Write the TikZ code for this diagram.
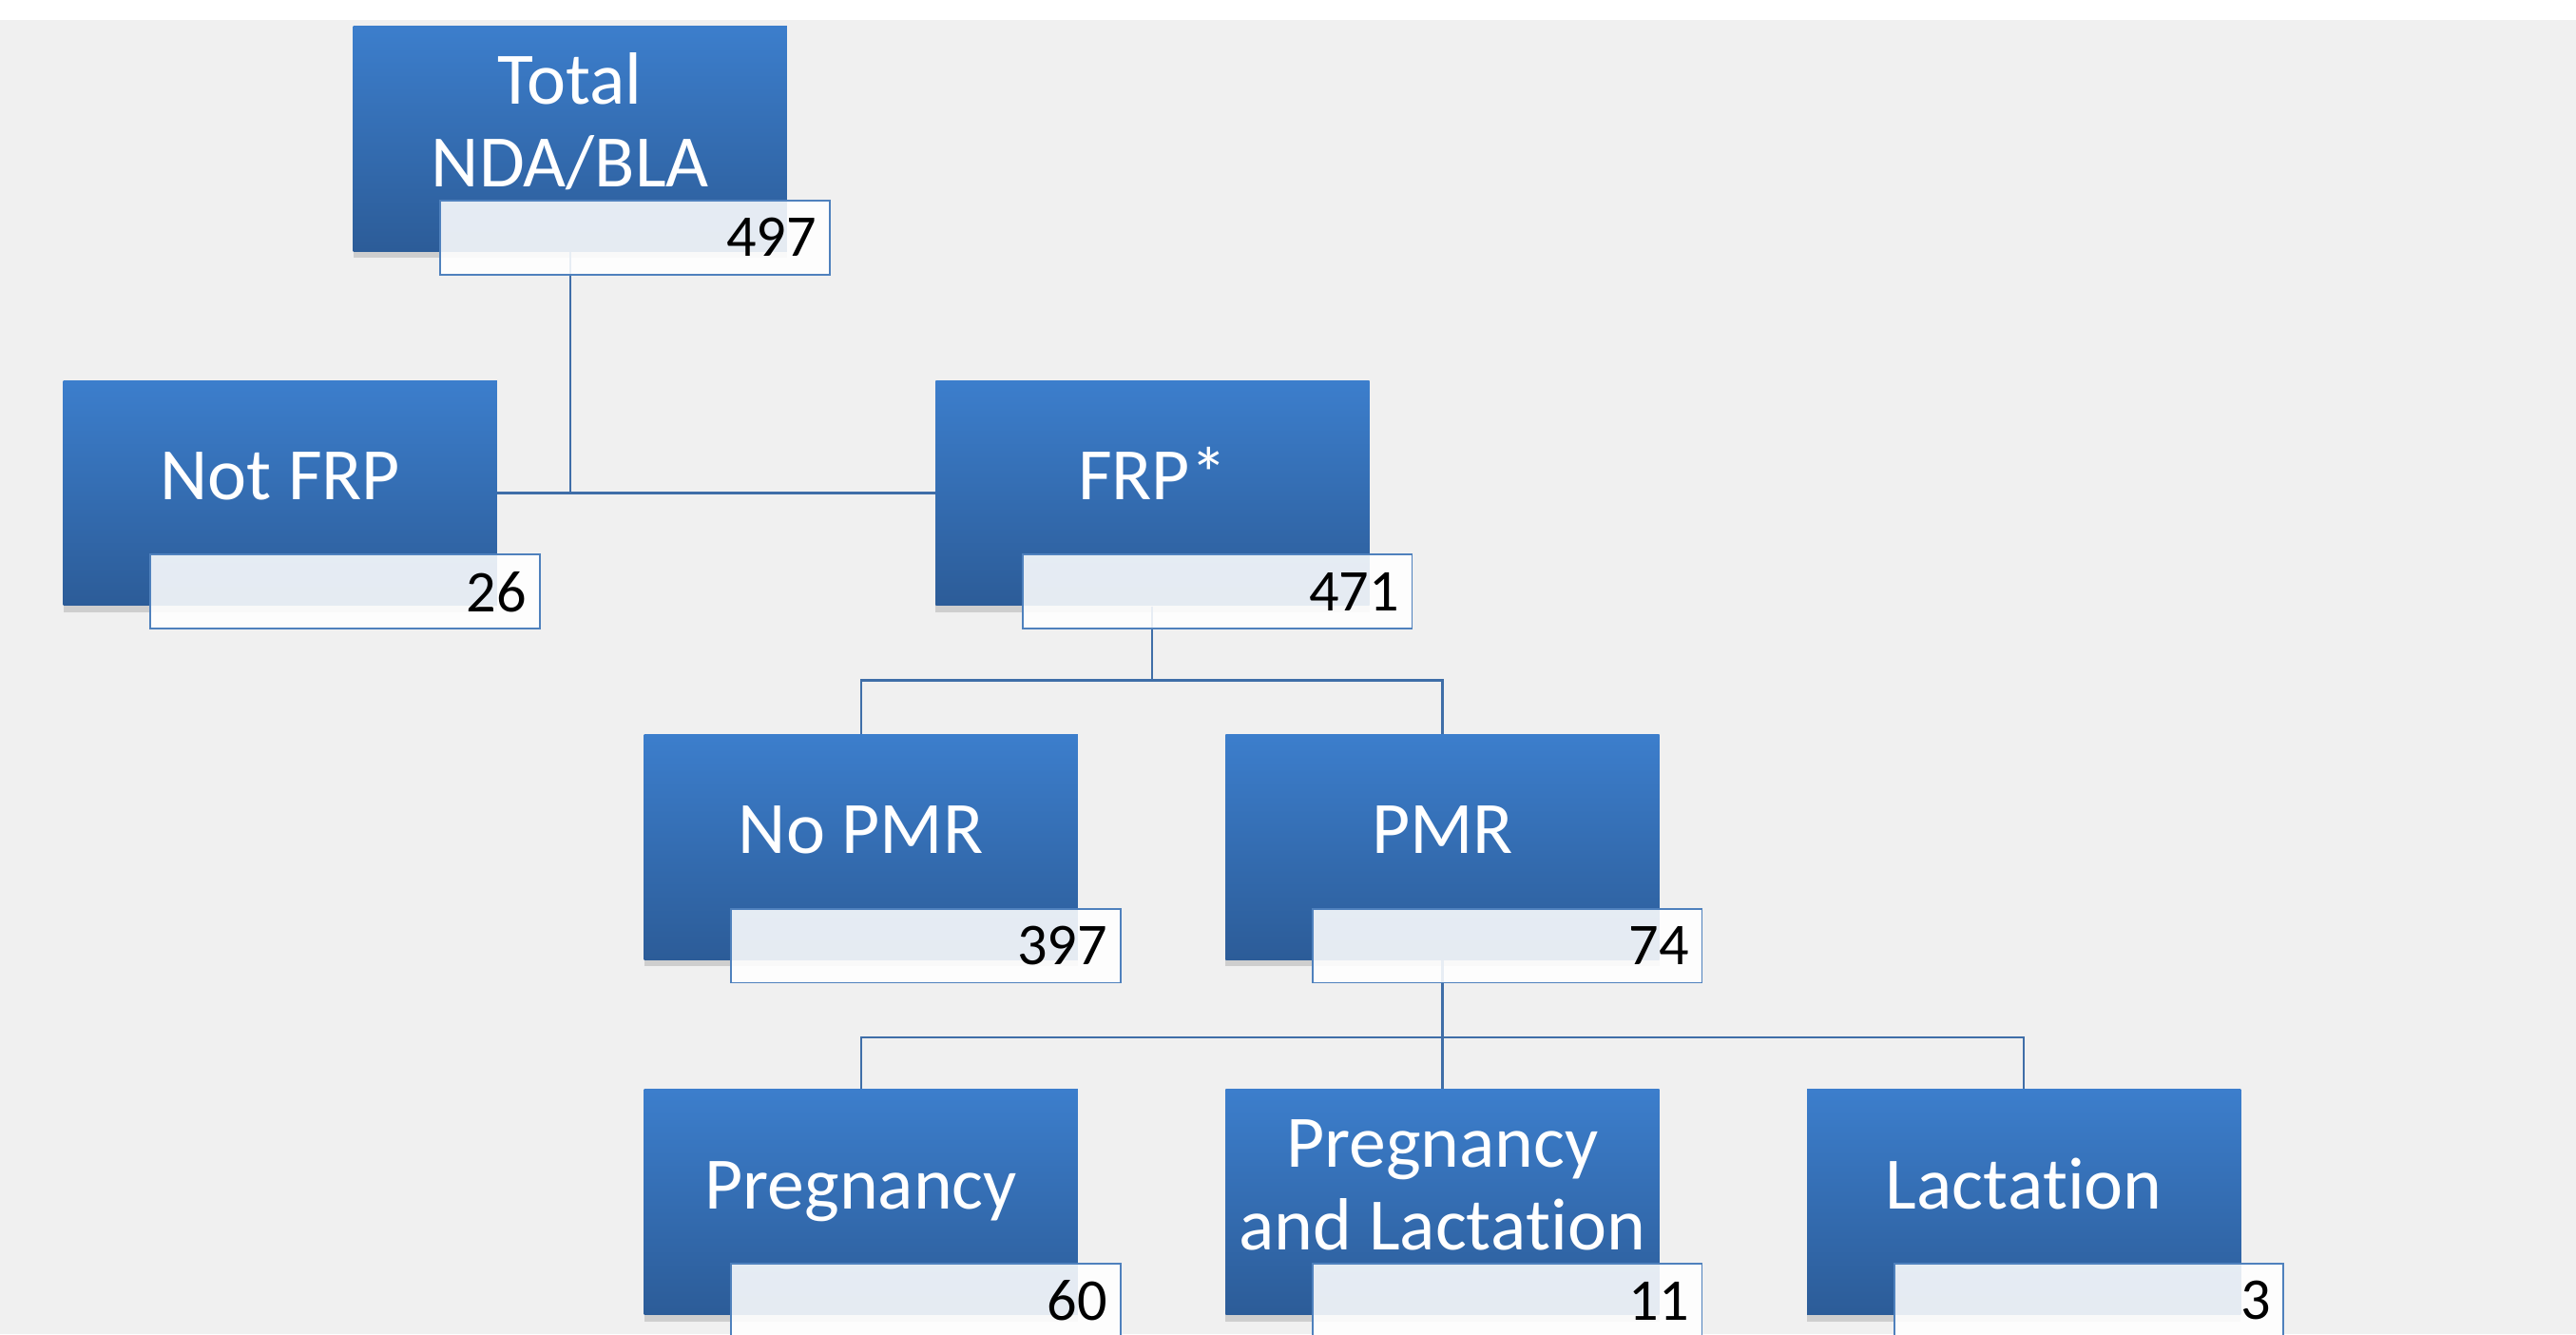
\documentclass[tikz,border=0pt]{standalone}
\usepackage{fontspec}
\setmainfont{Carlito}[Ligatures={NoCommon}]
\usetikzlibrary{shadows}
\definecolor{boxtop}{HTML}{3C7ECC}
\definecolor{boxbottom}{HTML}{2C5C98}
\definecolor{countline}{HTML}{4F81BD}
\definecolor{linkcolor}{HTML}{3F6EA8}
\definecolor{backgray}{HTML}{F0F0F0}
\tikzstyle{stagebox} = [rectangle, minimum width=5.28cm, minimum height=2.74cm, top color=boxtop, bottom color=boxbottom, draw=none, drop shadow={shadow xshift=0cm, shadow yshift=-0.08cm, opacity=0.3}]
\tikzstyle{stagetext} = [text=white, align=center, font=\fontsize{25.6}{28.5}\selectfont]
\tikzstyle{oneline} = [text height=0.78cm, text depth=0.2cm]
\tikzstyle{countbox} = [rectangle, minimum width=4.74cm, minimum height=0.9cm, text width=4.42cm, inner xsep=0.16cm, align=right, draw=countline, line width=0.6pt, fill=white, fill opacity=0.88, text opacity=1, font=\fontsize{20.5}{24}\selectfont]
\tikzstyle{linkline} = [draw=linkcolor, line width=0.7pt]

\begin{document}
\begin{tikzpicture}

\useasboundingbox (0,0) rectangle (31.36,-16.24);
\clip (0,0) rectangle (31.36,-16.24);
\fill [white] (0,0) rectangle (31.36,-0.24);
\fill [backgray] (0,-0.24) rectangle (31.36,-16.24);

%% NODES

\node (total) [stagebox] at (6.94,-1.69) {};
\node (totaltext) [stagetext] at ([yshift=0.21cm]total.center) {Total\\NDA/BLA};
\node (notfrp) [stagebox] at (3.41,-6.0) {};
\node (notfrptext) [stagetext, oneline] at ([yshift=0.21cm]notfrp.center) {Not FRP};
\node (frp) [stagebox] at (14.03,-6.0) {};
\node (frptext) [stagetext, oneline] at ([yshift=0.21cm]frp.center) {FRP*};
\node (nopmr) [stagebox] at (10.48,-10.31) {};
\node (nopmrtext) [stagetext, oneline] at ([yshift=0.21cm]nopmr.center) {No PMR};
\node (pmr) [stagebox] at (17.56,-10.31) {};
\node (pmrtext) [stagetext, oneline] at ([yshift=0.21cm]pmr.center) {PMR};
\node (preg) [stagebox] at (10.48,-14.63) {};
\node (pregtext) [stagetext, oneline] at ([yshift=0.21cm]preg.center) {Pregnancy};
\node (preglact) [stagebox] at (17.56,-14.63) {};
\node (preglacttext) [stagetext] at ([yshift=0.21cm]preglact.center) {Pregnancy\\and Lact\kern0pt ation};
\node (lact) [stagebox] at (24.64,-14.63) {};
\node (lacttext) [stagetext, oneline] at ([yshift=0.21cm]lact.center) {Lact\kern0pt ation};

\coordinate (totalfork) at (total.south |- notfrp.east);
\coordinate (frpfork) at (frp.south |- 0,-8.28);
\coordinate (pmrfork) at (pmr.south |- 0,-12.62);

%% ARROWS

\draw [linkline] (total.south) -- (totalfork);
\draw [linkline] (notfrp.east) -- (frp.west);
\draw [linkline] (frp.south) -- (frpfork);
\draw [linkline] (nopmr.north) |- (frpfork) -| (pmr.north);
\draw [linkline] (pmr.south) -- (pmrfork);
\draw [linkline] (preg.north) |- (pmrfork) -| (lact.north);
\draw [linkline] (preglact.north) -- (pmrfork);

%% COUNTS

\node (totalnum) [countbox] at ([xshift=0.79cm, yshift=-1.2cm]total.center) {497};
\node (notfrpnum) [countbox] at ([xshift=0.79cm, yshift=-1.2cm]notfrp.center) {26};
\node (frpnum) [countbox] at ([xshift=0.79cm, yshift=-1.2cm]frp.center) {471};
\node (nopmrnum) [countbox] at ([xshift=0.79cm, yshift=-1.2cm]nopmr.center) {397};
\node (pmrnum) [countbox] at ([xshift=0.79cm, yshift=-1.2cm]pmr.center) {74};
\node (pregnum) [countbox] at ([xshift=0.79cm, yshift=-1.2cm]preg.center) {60};
\node (preglactnum) [countbox] at ([xshift=0.79cm, yshift=-1.2cm]preglact.center) {11};
\node (lactnum) [countbox] at ([xshift=0.79cm, yshift=-1.2cm]lact.center) {3};

\end{tikzpicture}
\end{document}
